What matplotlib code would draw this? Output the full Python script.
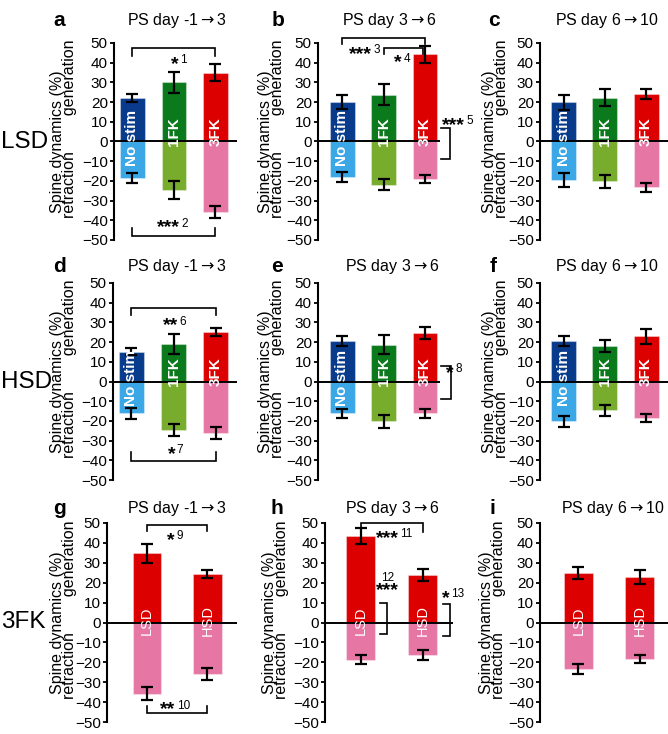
import matplotlib
matplotlib.use("Agg")
import matplotlib.pyplot as plt
import matplotlib.transforms as mtransforms

plt.rcParams["font.family"] = ["Liberation Sans", "DejaVu Sans"]
plt.rcParams["mathtext.fontset"] = "dejavusans"

W, H = 668, 734

GROUPS = ["No stim", "1FK", "3FK"]
DIETS = ["LSD", "HSD"]
TITLES = ["PS day -1$\\rightarrow$3", "PS day 3$\\rightarrow$6", "PS day 6$\\rightarrow$10"]
ROW_LABELS = ["LSD", "HSD", "3FK"]
LETTERS = "abcdefghi"
YLABEL = "Spine dynamics (%)" + " " * 6 + "\nretraction" + " " * 8 + "generation"

GEN_COLORS = ["#083b8c", "#0b7a1c", "#dd0000"]
RET_COLORS = ["#3ba7e7", "#77ac2d", "#e677a5"]

# panels a, b, c (LSD)
LSD_GEN = [[22, 30, 35], [20.2, 23.8, 44.3], [19.8, 22.2, 24.3]]
LSD_GEN_ERR = [[2, 5.5, 4.5], [3.5, 5.5, 4.3], [3.8, 4.2, 2.6]]
LSD_RET = [[-18.6, -24.6, -35.8], [-18, -22, -19], [-19.6, -20.3, -23.3]]
LSD_RET_ERR = [[2.7, 4.7, 3], [2.4, 2.8, 2.2], [3.5, 3.2, 2.4]]

# panels d, e, f (HSD)
HSD_GEN = [[15.2, 19, 25.2], [20.5, 18.6, 24.5], [20.5, 18, 23]]
HSD_GEN_ERR = [[1.6, 4.9, 2], [2.5, 4.8, 3], [2.5, 3.2, 3.8]]
HSD_RET = [[-16.2, -24.6, -26.2], [-16.2, -20.3, -16.2], [-20.3, -14.7, -18.6]]
HSD_RET_ERR = [[3, 3.1, 3], [2.3, 3.2, 2.3], [3, 3, 1.9]]

# panels g, h, i (3FK, LSD vs HSD)
FK3_GEN = [[34.8, 24.4], [43.5, 24], [24.8, 22.9]]
FK3_GEN_ERR = [[4.7, 2.1], [4.2, 3], [2.9, 3.6]]
FK3_RET = [[-35.7, -25.8], [-18.7, -16.2], [-23.3, -18.4]]
FK3_RET_ERR = [[3.1, 3], [2.3, 2.5], [2.5, 2.2]]

# axes boxes in pixels: (left, right) per panel, (top, bottom) per row
ROW_Y = [(43, 240), (283, 480), (523, 722)]
COL_X = [
    [(114, 237), (318, 440), (540, 668)],
    [(113, 237), (318, 440), (540, 668)],
    [(107, 237), (325, 453), (540, 668)],
]
XLIMS = [
    [(-0.446, 2.52), (-0.594, 2.364), (-0.57, 2.53)],
    [(-0.44, 2.51), (-0.594, 2.364), (-0.57, 2.53)],
    [(-0.661, 1.488), (-0.573, 1.49), (-0.631, 1.467)],
]
# x (pixels) of the first y-label line in each panel
YLAB_X = [[57, 265, 489], [57, 265, 489], [57, 269, 486]]

LW = 1.2


def hbracket(ax, x0, x1, y, leg):
    ax.plot([x0, x0, x1, x1], [y + leg, y, y, y + leg], color="black", lw=LW, clip_on=False,
            solid_joinstyle="miter")


def vbracket(ax, x0, x1, y0, y1):
    ax.plot([x0, x1, x1, x0], [y0, y0, y1, y1], color="black", lw=LW, clip_on=False,
            solid_joinstyle="miter")


def sig(ax, x, y, stars, num, fs=14, nfs=8.5):
    # stars end at x, number starts at x; y = visual centre of the stars
    ax.annotate(stars, (x, y), xytext=(0, -0.57 * fs), textcoords="offset points",
                ha="right", va="baseline", fontsize=fs, fontweight="bold", annotation_clip=False)
    ax.annotate(num, (x, y), xytext=(1, -0.8 - 0.36 * nfs), textcoords="offset points",
                ha="left", va="baseline", fontsize=nfs, annotation_clip=False)


def style_axes(ax, xlim):
    ax.set_xlim(*xlim)
    ax.set_ylim(-50, 50)
    ax.set_yticks(range(-50, 51, 10))
    for s in ["top", "right", "bottom"]:
        ax.spines[s].set_visible(False)
    ax.spines["left"].set_linewidth(1.5)
    ax.set_xticks([])
    ax.tick_params(axis="y", length=3, width=1.3, pad=1.5, labelsize=11)
    ax.patch.set_alpha(0)


def draw_bars(ax, gen, gen_err, ret, ret_err, gen_colors, ret_colors, width):
    x = list(range(len(gen)))
    ax.bar(x, gen, width=width, color=gen_colors, edgecolor=(1, 1, 1, 0.35), linewidth=0.8, zorder=2)
    ax.bar(x, ret, width=width, color=ret_colors, edgecolor=(1, 1, 1, 0.35), linewidth=0.8, zorder=2)
    ax.errorbar(x, gen, yerr=gen_err, fmt="none", ecolor="black", elinewidth=1.6, capsize=4.5,
                capthick=1.6, zorder=4)
    ax.errorbar(x, ret, yerr=ret_err, fmt="none", ecolor="black", elinewidth=1.6, capsize=4.5,
                capthick=1.6, zorder=4)
    ax.axhline(0, color="black", lw=1.4, zorder=3)


def ylabel(fig, ax, xpix):
    tr = mtransforms.blended_transform_factory(fig.transFigure, ax.transData)
    ax.text((xpix + 6.5) / W, 6.6, YLABEL, transform=tr, rotation=90, ha="center", va="center",
            multialignment="center", linespacing=0.8, fontsize=11.5)


def main() -> None:
    fig = plt.figure(figsize=(W / 100, H / 100), dpi=100)
    axes = []
    for r in range(3):
        top, bot = ROW_Y[r]
        for c in range(3):
            left, right = COL_X[r][c]
            ax = fig.add_axes([left / W, 1 - bot / H, (right - left) / W, (bot - top) / H])
            style_axes(ax, XLIMS[r][c])
            ylabel(fig, ax, YLAB_X[r][c])
            axes.append(ax)

    for c in range(3):
        draw_bars(axes[c], LSD_GEN[c], LSD_GEN_ERR[c], LSD_RET[c], LSD_RET_ERR[c],
                  GEN_COLORS, RET_COLORS, 0.6)
        draw_bars(axes[3 + c], HSD_GEN[c], HSD_GEN_ERR[c], HSD_RET[c], HSD_RET_ERR[c],
                  GEN_COLORS, RET_COLORS, 0.6)
        draw_bars(axes[6 + c], FK3_GEN[c], FK3_GEN_ERR[c], FK3_RET[c], FK3_RET_ERR[c],
                  [GEN_COLORS[2]] * 2, [RET_COLORS[2]] * 2, 0.47)
        for r in range(2):
            ax = axes[3 * r + c]
            for i, g in enumerate(GROUPS):
                ax.text(i, 2 if i == 0 else 5, g, rotation=90, ha="center", va="center",
                        color="white", fontsize=11, fontweight="bold", zorder=5)
        ax = axes[6 + c]
        for i, d in enumerate(DIETS):
            ax.text(i, 1, d, rotation=90, ha="center", va="center", color="white",
                    fontsize=10.5, zorder=5)

    # titles, letters, row labels (pixel positions)
    title_x = [[177, 389, 607], [177, 392, 607], [177, 392, 613]]
    title_y = [20, 267, 508]
    letter_x = [[53, 272, 488], [53, 271, 490], [53, 271, 490]]
    for r in range(3):
        for c in range(3):
            fig.text(title_x[r][c] / W, 1 - title_y[r] / H, TITLES[c], ha="center", va="center",
                     fontsize=11.5)
            fig.text(letter_x[r][c] / W, 1 - title_y[r] / H, LETTERS[3 * r + c], ha="left",
                     va="center", fontsize=15, fontweight="bold")
        fig.text(1 / W, 1 - (ROW_Y[r][0] + 99) / H, ROW_LABELS[r], ha="left", va="center",
                 fontsize=17.5)

    # significance marks
    a, b, c, d, e, f, g, h, i = axes
    hbracket(a, 0, 2, 47.3, -3.7)
    sig(a, 1.11, 42.5, "*", "1")
    hbracket(a, 0, 2, -48, 4.3)
    sig(a, 1.14, -40.5, "***", "2")

    hbracket(b, 0, 2, 52.7, -3)
    sig(b, 0.72, 47.5, "***", "3")
    hbracket(b, 1, 1.95, 47.6, -3)
    sig(b, 1.44, 43.2, "*", "4")
    vbracket(b, 2.39, 2.61, 7, -9)
    sig(b, 2.97, 11.5, "***", "5")

    hbracket(d, 0, 2, 37.2, -3.4)
    sig(d, 1.11, 31.6, "**", "6")
    hbracket(d, 0, 2, -40.4, 4.6)
    sig(d, 1.04, -33.5, "*", "7")

    vbracket(e, 2.4, 2.62, 8, -8.8)
    sig(e, 2.7, 7.5, "*", "8")

    hbracket(g, 0, 1, 48.8, -3)
    sig(g, 0.46, 44.6, "*", "9")
    hbracket(g, 0, 1, -45.5, 3.5)
    sig(g, 0.47, -40.6, "**", "10")

    hbracket(h, 0, 1, 50, -4.5)
    sig(h, 0.62, 45.5, "***", "11")
    vbracket(h, 0.31, 0.43, 10, -5.9)
    h.text(0.44, 16, "***", ha="center", va="center", fontsize=14, fontweight="bold")
    h.text(0.44, 22.5, "12", ha="center", va="center", fontsize=8.5)
    vbracket(h, 1.33, 1.44, 9.2, -7)
    sig(h, 1.44, 15.5, "*", "13")

    fig.savefig("out.png", dpi=100)
    plt.close(fig)


if __name__ == "__main__":
    main()
